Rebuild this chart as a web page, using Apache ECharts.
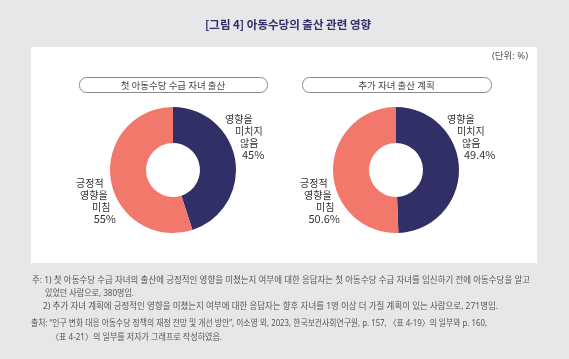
<!DOCTYPE html>
<html>
<head>
<meta charset="utf-8">
<script src="https://cdn.jsdelivr.net/npm/echarts@6/dist/echarts.min.js"></script>
<style>
html,body{margin:0;padding:0;background:#e6e7e9;}
#c{width:569px;height:359px;}
</style>
</head>
<body>
<div id="c"></div>
<script>
// ---- data ----
const chartTitle = '[그림 4] 아동수당의 출산 관련 영향';
const unitText = '(단위: %)';
const categories = ['영향을 미치지 않음', '긍정적 영향을 미침'];
const categoryLines = [['영향을', '미치지', '않음'], ['긍정적', '영향을', '미침']];
const panelTitles = ['첫 아동수당 수급 자녀 출산', '추가 자녀 출산 계획'];
const firstBirthValues = [45, 55];
const additionalPlanValues = [49.4, 50.6];
const noteLines = [
  '주: 1) 첫 아동수당 수급 자녀의 출산에 긍정적인 영향을 미쳤는지 여부에 대한 응답자는 첫 아동수당 수급 자녀를 임신하기 전에 아동수당을 알고',
  '있었던 사람으로, 380명임.',
  '2) 추가 자녀 계획에 긍정적인 영향을 미쳤는지 여부에 대한 응답자는 향후 자녀를 1명 이상 더 가질 계획이 있는 사람으로, 271명임.',
  '출처: “인구 변화 대응 아동수당 정책의 재정 전망 및 개선 방안”, 이소영 외, 2023, 한국보건사회연구원, p. 157, 〈표 4-19〉의 일부와 p. 160,',
  '〈표 4-21〉의 일부를 저자가 그래프로 작성하였음.'
];

// ---- styles / layout ----
const FONT = '"Noto Sans CJK KR", "Noto Sans", sans-serif';
const NOTE_FONT = '"Noto Sans", "Noto Sans CJK KR", sans-serif';
const NAVY = '#302f66';
const SALMON = '#f2786b';
const colors = [NAVY, SALMON];
const centers = [[173, 170], [396, 170]];
const labelPos = [
  [[225, 113], [76, 177]],
  [[447, 113], [300, 177]]
];
const boxRects = [[79, 77, 188, 15], [302, 77, 189, 15]];
// [left, centerY, right edge in reference]
const noteLayout = [[32, 281, 530], [45, 294, 134], [43, 307, 498], [31, 324, 487], [51, 338, 222]];
const NOTE_SIZE = 8.6;

function labelFormatter(p) {
  const lines = categoryLines[p.dataIndex];
  const pre = p.dataIndex === 0 ? 'n' : 's';
  return lines.map((t, i) => '{' + pre + i + '|' + t + '}').join('\n') +
    '\n{' + pre + '3|' + p.value + '%}';
}
const baseTok = {fontFamily: FONT, fontSize: 10, lineHeight: 12, color: '#333'};
const rich = {
  n0: Object.assign({}, baseTok, {padding: [0, 0, 0, 0]}),
  n1: Object.assign({}, baseTok, {padding: [0, 0, 0, 10]}),
  n2: Object.assign({}, baseTok, {padding: [0, 0, 0, 15]}),
  n3: Object.assign({}, baseTok, {padding: [0, 0, 0, 17], fontSize: 11}),
  s0: Object.assign({}, baseTok, {padding: [0, 0, 0, 0]}),
  s1: Object.assign({}, baseTok, {padding: [0, 0, 0, 4]}),
  s2: Object.assign({}, baseTok, {padding: [0, 0, 0, 16]}),
  s3: Object.assign({}, baseTok, {fontSize: 11, align: 'right'})
};

function makePie(values, idx) {
  return {
    type: 'pie',
    center: centers[idx],
    radius: [27, 63],
    startAngle: 90,
    clockwise: true,
    silent: true,
    animation: false,
    data: values.map((v, i) => ({
      name: categories[i],
      value: v,
      itemStyle: {color: colors[i]},
      label: i === 1 ? {width: 40} : {}
    })),
    label: {
      show: true,
      position: 'outside',
      formatter: labelFormatter,
      rich: rich
    },
    labelLine: {show: false},
    labelLayout: function (params) {
      const pos = labelPos[idx][params.dataIndex];
      return {x: pos[0], y: pos[1], align: 'left', verticalAlign: 'top'};
    }
  };
}

const measureCtx = document.createElement('canvas').getContext('2d');
function textWidth(t, font) {
  measureCtx.font = font;
  return measureCtx.measureText(t).width;
}

const graphics = [
  {type: 'rect', shape: {x: 31, y: 47, width: 506, height: 216}, style: {fill: '#ffffff'}, z: -10},
  {type: 'text', style: {text: unitText, x: 528, y: 56, align: 'right', verticalAlign: 'middle',
    font: '9.5px ' + NOTE_FONT, fill: '#555'}}
];
boxRects.forEach((r, i) => {
  graphics.push({type: 'rect', shape: {x: r[0] + 0.5, y: r[1] + 0.5, width: r[2], height: r[3], r: 7},
    style: {fill: '#fff', stroke: '#8a8a8a', lineWidth: 1}});
  graphics.push({type: 'text', style: {text: panelTitles[i], x: r[0] + r[2] / 2, y: r[1] + r[3] / 2 + 1,
    align: 'center', verticalAlign: 'middle', font: '9.5px ' + FONT, fill: '#444'}});
});
noteLines.forEach((t, i) => {
  const L = noteLayout[i];
  const font = NOTE_SIZE + 'px ' + NOTE_FONT;
  const w = textWidth(t, font);
  const s = w > 0 ? Math.max(0.86, Math.min(1.05, (L[2] - L[0]) / w)) : 1;
  graphics.push({type: 'text', x: L[0], y: L[1], scaleX: s,
    style: {text: t, x: 0, y: 0, align: 'left', verticalAlign: 'middle', font: font, fill: '#555'}});
});

const chart = echarts.init(document.getElementById('c'), null, {renderer: 'canvas'});
chart.setOption({
  backgroundColor: '#e6e7e9',
  animation: false,
  title: {
    text: chartTitle,
    left: 283, top: 14, textAlign: 'center',
    textStyle: {fontFamily: FONT, fontSize: 11.5, fontWeight: 'bold', color: '#2e3068'}
  },
  graphic: graphics,
  series: [makePie(firstBirthValues, 0), makePie(additionalPlanValues, 1)]
});
</script>
</body>
</html>
